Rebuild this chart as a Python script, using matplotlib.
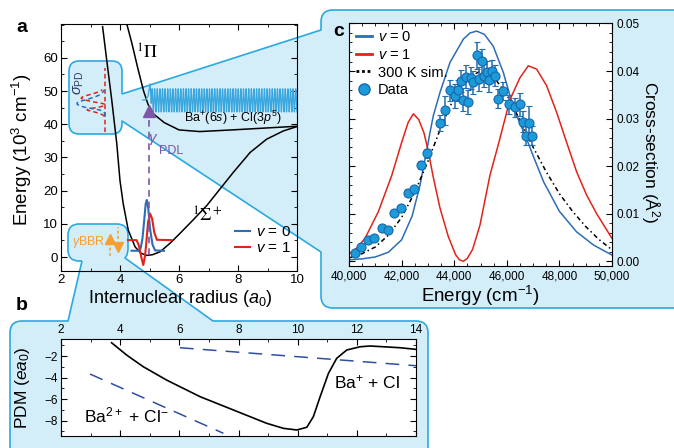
import matplotlib.pyplot as plt
import numpy as np
from matplotlib.path import Path
from matplotlib.patches import PathPatch
from matplotlib.lines import Line2D
from matplotlib.ticker import MultipleLocator, FuncFormatter

plt.rcParams['font.family'] = ['Liberation Sans', 'DejaVu Sans']
plt.rcParams['mathtext.fontset'] = 'custom'
plt.rcParams['mathtext.rm'] = 'Liberation Sans'
plt.rcParams['mathtext.it'] = 'Liberation Sans:italic'
plt.rcParams['mathtext.bf'] = 'Liberation Sans:bold'

# ---- panel a: potential curves (r in a0, E in 10^3 cm^-1)
sigma_r = [3.41, 3.55, 3.72, 3.89, 4.0, 4.11, 4.28, 4.51, 4.70, 4.90, 5.10, 5.36, 5.69, 6.03, 6.48,
           6.94, 7.39, 7.84, 8.41, 8.97, 9.54, 10.0]
sigma_E = [69.4, 59.3, 47.3, 34.2, 23.0, 16.0, 8.1, 3.1, 1.2, 0.5, 0.7, 1.6, 4.1, 7.1, 11.2,
           15.5, 20.5, 25.5, 31.5, 35.5, 38.0, 39.3]
pi_r = [4.23, 4.40, 4.60, 4.80, 4.95, 5.15, 5.50, 6.00, 6.70, 7.80, 9.00, 10.0]
pi_E = [70.2, 64.5, 57.0, 50.0, 46.0, 43.0, 40.5, 38.3, 37.8, 38.3, 38.9, 39.4]

# vibrational wavefunctions
v0_r = [4.39, 4.62, 4.70, 4.76, 4.82, 4.87, 4.91, 4.96, 5.02, 5.10, 5.19, 5.49]
v0_E = [1.9, 1.9, 2.6, 5.5, 11.0, 16.0, 17.2, 14.5, 8.5, 3.8, 2.0, 1.9]
v1_r = [4.27, 4.56, 4.64, 4.72, 4.79, 4.85, 4.90, 4.95, 5.02, 5.09, 5.16, 5.25, 5.75]
v1_E = [5.1, 5.1, 3.5, 0.0, -2.4, 0.5, 5.1, 10.5, 13.1, 11.5, 7.5, 5.2, 5.1]

# continuum wave above Ba+(6s) + Cl(3p5)
wave_lead_r = [4.77, 4.87, 4.95, 5.02]
wave_lead_E = [47.3, 47.3, 48.5, 52.2]
wave_start, wave_end = 5.06, 10.0
wave_mid, wave_amp, wave_cycles = 47.2, 3.5, 55

# ---- panel b: permanent dipole moment
pdm_r = [3.71, 4.22, 4.78, 5.57, 6.70, 7.83, 8.95, 9.52, 9.97, 10.31, 10.53, 10.76, 11.04, 11.32,
         11.66, 12.11, 12.45, 12.90, 13.46, 14.0]
pdm_val = [-0.77, -1.91, -2.99, -4.23, -5.77, -7.01, -8.24, -8.71, -8.86, -8.61, -7.63, -5.77, -3.61,
           -2.21, -1.44, -1.14, -1.07, -1.14, -1.23, -1.38]
diab1_r, diab1_val = [6.02, 14.0], [-1.23, -2.9]
diab2_r, diab2_val = [2.98, 7.49], [-3.67, -9.17]

# ---- panel c: photodissociation cross-section
blue_E = [40000, 40500, 41000, 41500, 42000, 42400, 42700, 42980, 43080, 43206, 43460, 43840, 44346,
          44600, 44855, 45150, 45487, 45868, 46121, 46375, 46756, 47000, 47400, 48000, 48650, 49300, 50000]
blue_sig = [0.0003, 0.0005, 0.0009, 0.0019, 0.0045, 0.0095, 0.0160, 0.0240, 0.0271, 0.0306, 0.0355,
            0.0418, 0.0467, 0.0480, 0.0484, 0.0477, 0.0452, 0.0397, 0.0348, 0.0306, 0.0257, 0.0222,
            0.0167, 0.0105, 0.0062, 0.0034, 0.0013]
red_E = [40000, 40300, 40608, 41114, 41623, 42003, 42250, 42446, 42650, 42850, 43000, 43200, 43459,
         43775, 44050, 44200, 44346, 44500, 44700, 44980, 45360, 45700, 46121, 46501, 46818, 47135,
         47515, 47895, 48275, 48655, 49036, 49416, 50000]
red_sig = [0.0015, 0.0028, 0.0048, 0.0104, 0.0180, 0.0250, 0.0292, 0.0310, 0.0298, 0.0270, 0.0235,
           0.0178, 0.0112, 0.0052, 0.0014, 0.0003, 0.0, 0.0006, 0.0025, 0.0076, 0.0181, 0.0250, 0.0340,
           0.0386, 0.0411, 0.0404, 0.0369, 0.0313, 0.0250, 0.0188, 0.0139, 0.0100, 0.0048]
sim_E = [40000, 40500, 41000, 41500, 42000, 42500, 43000, 43500, 44000, 44500, 45000, 45500, 46000,
         46500, 47000, 47500, 48000, 48500, 49000, 49500, 50000]
sim_sig = [0.0007, 0.0016, 0.0030, 0.0055, 0.0092, 0.0145, 0.0210, 0.0282, 0.0345, 0.0385, 0.0400,
           0.0388, 0.0350, 0.0297, 0.0240, 0.0188, 0.0142, 0.0105, 0.0073, 0.0046, 0.0024]
data_E = [40228, 40456, 40710, 40962, 41243, 41471, 41722, 41977, 42231, 42471, 42737, 42977, 43460,
          43650, 43840, 44030, 44156, 44246, 44346, 44437, 44536, 44627, 44726, 44855, 44942, 45045,
          45133, 45235, 45334, 45449, 45551, 45654, 45867, 46083, 46300, 46502, 46627, 46730, 46844, 46946]
data_sig = [0.0017, 0.0029, 0.0045, 0.0048, 0.0069, 0.0066, 0.0102, 0.0111, 0.0144, 0.0151, 0.0202,
            0.0227, 0.0291, 0.0317, 0.0360, 0.0347, 0.0360, 0.0379, 0.0340, 0.0388, 0.0335, 0.0386,
            0.0376, 0.0433, 0.0383, 0.0421, 0.0390, 0.0398, 0.0381, 0.0400, 0.0390, 0.0342, 0.0358,
            0.0330, 0.0324, 0.0330, 0.0293, 0.0264, 0.0291, 0.0264]
data_err = [0.0004, 0.0004, 0.0004, 0.0004, 0.0005, 0.0005, 0.0005, 0.0006, 0.0007, 0.0006, 0.0008,
            0.0010, 0.0017, 0.0030, 0.0022, 0.0025, 0.0022, 0.0023, 0.0025, 0.0024, 0.0025, 0.0023,
            0.0024, 0.0028, 0.0025, 0.0025, 0.0024, 0.0024, 0.0025, 0.0024, 0.0022, 0.0020, 0.0018,
            0.0020, 0.0020, 0.0024, 0.0022, 0.0020, 0.0036, 0.0020]

BLUE = '#2c6db7'
RED = '#e2231a'
CYAN = '#39a7de'
PURPLE = '#7e57a8'
ORANGE = '#f6a033'
FILL = '#d3edf9'
EDGE = '#2aa9e0'

W, H = 674, 448
fig = plt.figure(figsize=(W / 100, H / 100), dpi=100)

# background layer in pixel coordinates for the callout shapes
bg = fig.add_axes([0, 0, 1, 1], zorder=0)
bg.set_xlim(0, W)
bg.set_ylim(H, 0)
bg.axis('off')

M, L, Q = Path.MOVETO, Path.LINETO, Path.CURVE3
# sigma_PD bubble + tail + box c
verts1 = [(122, 94), (321, 30), (321, 22), (321, 10), (333, 10), (690, 10), (690, 308), (333, 308),
          (321, 308), (321, 296), (321, 252), (122, 121), (122, 124), (122, 134), (112, 134),
          (79, 134), (69, 134), (69, 124), (69, 71), (69, 61), (79, 61), (112, 61), (122, 61),
          (122, 71), (122, 94)]
codes1 = [M, L, L, Q, Q, L, L, L, Q, Q, L, L, L, Q, Q, L, Q, Q, L, Q, Q, L, Q, Q, L]
# gamma_BBR bubble + tail + box b
verts2 = [(82, 261), (68, 321), (22, 321), (10, 321), (10, 333), (10, 470), (428, 470), (428, 333),
          (428, 321), (416, 321), (213, 321), (125, 258), (127, 255), (128, 250), (128, 235),
          (128, 224), (117, 224), (79, 224), (68, 224), (68, 235), (68, 250), (68, 261), (79, 261),
          (82, 261)]
codes2 = [M, L, L, Q, Q, L, L, L, Q, Q, L, L, L, L, L, Q, Q, L, Q, Q, L, Q, Q, L]
for vv, cc in [(verts1, codes1), (verts2, codes2)]:
    bg.add_patch(PathPatch(Path(vv, cc), facecolor=FILL, edgecolor=EDGE, lw=1.2, joinstyle='round'))

# ---------------- panel a
ax = fig.add_axes([61 / W, 1 - 271 / H, 236 / W, 247 / H], zorder=2)
ax.set_facecolor('none')
ax.plot(sigma_r, sigma_E, color='black', lw=1.1)
ax.plot(pi_r, pi_E, color='black', lw=1.1)

wave_r = np.linspace(wave_start, wave_end, 4000)
period = (wave_end - 5.13) / wave_cycles
wave_E = wave_mid - wave_amp * np.cos(2 * np.pi * (wave_r - 5.13) / period)
ax.plot(wave_lead_r + list(wave_r), wave_lead_E + list(wave_E), color=CYAN, lw=0.9)

ax.plot(v0_r, v0_E, color=BLUE, lw=1.5, label=r'$v$ = 0')
ax.plot(v1_r, v1_E, color=RED, lw=1.5, label=r'$v$ = 1')

# photodissociation laser arrow
ax.plot([4.97, 4.97], [0.5, 42.5], color=PURPLE, lw=1.2, ls=(0, (4, 3)))
ax.plot([4.97], [44.0], marker='^', ms=9, color=PURPLE, mec=PURPLE)
ax.text(5.12, 35.3, r'$\gamma$', color=PURPLE, fontsize=11, ha='center', va='center')
ax.text(5.75, 31.8, 'PDL', color=PURPLE, fontsize=9, ha='center', va='center')

# sigma_PD inset: cross-sections rotated into the bubble
ins_r0, ins_k = 3.5, 19.8
ax.plot([ins_r0, ins_r0], [37.6, 57.0], color=RED, lw=1.1, ls=(0, (3, 2)))
ax.plot(ins_r0 - ins_k * np.array(red_sig), 44.3 + (np.array(red_E) - 42400) * 0.0008,
        color=RED, lw=1.1, ls=(0, (3, 2)))
ax.plot(ins_r0 - ins_k * np.array(blue_sig), 44.3 + (np.array(blue_E) - 42400) * 0.0008,
        color=BLUE, lw=1.1, ls=(0, (3, 2)))
ax.text(2.6, 52.5, r'$\sigma_{\rm PD}$', rotation=90, fontsize=10.5, color='#2b3a67',
        ha='center', va='center')

# gamma_BBR bubble contents
ax.text(2.93, 4.4, r'$\gamma$BBR', color=ORANGE, fontsize=9, ha='center', va='center')
ax.plot([3.66, 3.66], [0.3, 3.8], color=ORANGE, lw=1.1, ls=(0, (2, 1.5)))
ax.plot([3.66], [5.4], marker='^', ms=7, color=ORANGE)
ax.plot([3.93, 3.93], [5.5, 9.0], color=ORANGE, lw=1.1, ls=(0, (2, 1.5)))
ax.plot([3.93], [3.0], marker='v', ms=7, color=ORANGE)

ax.text(4.92, 61.5, r'$^1\Pi$', fontsize=13, ha='center', va='center',
        family=['Liberation Serif', 'DejaVu Serif'], math_fontfamily='stix')
ax.text(6.95, 12.2, r'$^1\Sigma^+$', fontsize=13, ha='center', va='center', math_fontfamily='stix')
ax.text(7.83, 42.0, r'Ba$^{+}$(6$s$) + Cl(3$p^5$)', fontsize=9, ha='center', va='center')

ax.legend(loc='lower right', bbox_to_anchor=(1.02, 0.02), frameon=False, fontsize=11,
          handlelength=1.0, handletextpad=0.4, labelspacing=0.15, borderpad=0.2)

ax.set_xlim(2, 10)
ax.set_ylim(-4.2, 70.2)
ax.set_xticks([2, 4, 6, 8, 10])
ax.set_yticks([0, 10, 20, 30, 40, 50, 60])
ax.xaxis.set_minor_locator(MultipleLocator(1))
ax.yaxis.set_minor_locator(MultipleLocator(5))
ax.tick_params(which='both', direction='in', top=True, right=True, labelsize=9.5, pad=2)
ax.tick_params(which='major', length=4)
ax.tick_params(which='minor', length=2)

# ---------------- panel b
axb = fig.add_axes([61 / W, 1 - 436 / H, 355 / W, 97 / H], zorder=2)
axb.set_facecolor('white')
axb.plot(pdm_r, pdm_val, color='black', lw=1.2)
axb.plot(diab1_r, diab1_val, color='#2f4ea3', lw=1.1, ls=(0, (9, 6)))
axb.plot(diab2_r, diab2_val, color='#2f4ea3', lw=1.1, ls=(0, (9, 6)))
axb.text(4.2, -7.5, r'Ba$^{2+}$ + Cl$^{-}$', fontsize=12.5, ha='center', va='center')
axb.text(12.35, -4.4, r'Ba$^{+}$ + Cl', fontsize=12.5, ha='center', va='center')
axb.set_xlim(2, 14)
axb.set_ylim(-9.42, -0.42)
axb.set_xticks(range(2, 15, 2))
axb.set_yticks([-2, -4, -6, -8])
axb.xaxis.set_minor_locator(MultipleLocator(1))
axb.yaxis.set_minor_locator(MultipleLocator(1))
axb.tick_params(which='both', direction='in', top=True, bottom=True, right=True,
                labeltop=True, labelbottom=False, labelsize=8.5, pad=2)
axb.tick_params(which='major', length=4)
axb.tick_params(which='minor', length=2)

# ---------------- panel c
axc = fig.add_axes([349 / W, 1 - 266 / H, 263 / W, 243 / H], zorder=2)
axc.set_facecolor('white')
axc.plot(blue_E, blue_sig, color=BLUE, lw=1.1, label=r'$v$ = 0')
axc.plot(red_E, red_sig, color=RED, lw=1.1, label=r'$v$ = 1')
axc.plot(sim_E, sim_sig, color='black', lw=1.1, ls=(0, (3, 2, 1, 2)), label='300 K sim.')
axc.errorbar(data_E, data_sig, yerr=data_err, fmt='o', ms=6.5, mfc='#1d9bd9', mec='#1666ad',
             mew=0.8, ecolor='#1f6db3', elinewidth=1.1, capsize=2, capthick=1.1, label='Data', zorder=3)
handles = [Line2D([], [], color=BLUE, lw=2), Line2D([], [], color=RED, lw=2),
           Line2D([], [], color='black', lw=2, ls=(0, (1, 1))),
           Line2D([], [], ls='none', marker='o', ms=8, mfc='#1d9bd9', mec='#1666ad')]
axc.legend(handles, [r'$v$ = 0', r'$v$ = 1', '300 K sim.', 'Data'], loc='upper left',
           frameon=False, fontsize=10.5, handlelength=1.1, handletextpad=0.4, labelspacing=0.25,
           borderpad=0.3, borderaxespad=0.2)
axc.set_xlim(40000, 50000)
axc.set_ylim(-0.001, 0.0501)
axc.set_xticks(range(40000, 50001, 2000))
axc.set_yticks([0, 0.01, 0.02, 0.03, 0.04, 0.05])
axc.xaxis.set_major_formatter(FuncFormatter(lambda v, p: f'{v:,.0f}'))
axc.yaxis.set_major_formatter(FuncFormatter(lambda v, p: f'{v:.2f}'))
axc.xaxis.set_minor_locator(MultipleLocator(500))
axc.yaxis.set_minor_locator(MultipleLocator(0.002))
axc.tick_params(which='both', direction='in', top=True, right=True, left=True,
                labelleft=False, labelright=True, labelsize=8.5, pad=3)
axc.tick_params(which='major', length=4)
axc.tick_params(which='minor', length=2)

# ---------------- labels in pixel space
bg.text(22, 27, 'a', fontsize=14, fontweight='bold', ha='center', va='center')
bg.text(22, 306, 'b', fontsize=14, fontweight='bold', ha='center', va='center')
bg.text(339, 31, 'c', fontsize=14, fontweight='bold', ha='center', va='center')
bg.text(22, 150, r'Energy (10$^3$ cm$^{-1}$)', fontsize=13.5, rotation=90, ha='center', va='center')
bg.text(180, 288, r'Internuclear radius ($a_0$)', fontsize=13, ha='center', va='top')
bg.text(480, 284, r'Energy (cm$^{-1}$)', fontsize=13.5, ha='center', va='top')
bg.text(650, 152, r'Cross-section (Å$^2$)', fontsize=12.5, rotation=270, ha='center', va='center')
bg.text(23, 388, r'PDM ($ea_0$)', fontsize=12.5, rotation=90, ha='center', va='center')

fig.savefig('out.png', dpi=100)
